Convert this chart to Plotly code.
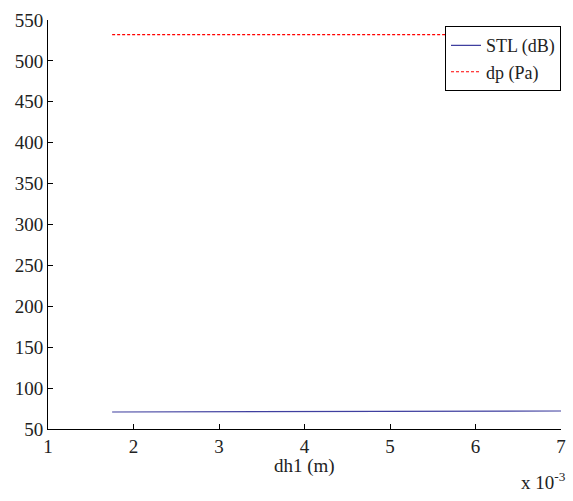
import plotly.graph_objects as go

# Hydraulic diameter sweep (m)
dh1 = [0.00175, 0.0025, 0.00325, 0.004, 0.00475, 0.0055, 0.00625, 0.007]
# Sound transmission loss (dB)
stl_db = [70.8, 71.0, 71.2, 71.4, 71.6, 71.7, 71.9, 72.0]
# Pressure drop (Pa)
dp_pa = [532, 532, 532, 532, 532, 532, 532, 532]

x_tick_vals = [1, 2, 3, 4, 5, 6, 7]
y_tick_vals = [50, 100, 150, 200, 250, 300, 350, 400, 450, 500, 550]

scale = 1e3
x_scaled = [v * scale for v in dh1]

font_family = "'Times New Roman', 'Liberation Serif', 'DejaVu Serif', serif"
fsize = 19

fig = go.Figure()
fig.add_trace(go.Scatter(
    x=x_scaled, y=stl_db, mode="lines", name="STL (dB)",
    line=dict(color="#3f3f9f", width=1.2),
))
fig.add_trace(go.Scatter(
    x=x_scaled, y=dp_pa, mode="lines", name="dp (Pa)",
    line=dict(color="#ff0000", width=1.2, dash="3px,2px"),
))

axis_common = dict(
    showgrid=False, zeroline=False, showline=True, linecolor="black",
    linewidth=1, ticks="inside", ticklen=5, tickcolor="black",
    tickfont=dict(family=font_family, size=fsize, color="#222222"),
)

fig.update_layout(
    width=573, height=501,
    margin=dict(l=48, r=7, t=20, b=72),
    paper_bgcolor="white", plot_bgcolor="white",
    font=dict(family=font_family, size=fsize, color="#222222"),
    xaxis=dict(range=[1, 7], tickvals=x_tick_vals, **axis_common),
    yaxis=dict(range=[50, 550], tickvals=y_tick_vals, **axis_common),
    legend=dict(
        x=1.0, y=0.985, xanchor="right", yanchor="top",
        bgcolor="white", bordercolor="black", borderwidth=1,
        font=dict(family=font_family, size=18),
        itemwidth=30, tracegroupgap=0,
    ),
    showlegend=True,
)

# Axis label and exponent note below the x axis
fig.add_annotation(
    xref="paper", yref="paper", x=0.5, y=-0.09,
    xanchor="center", yanchor="middle",
    text="dh1 (m)", showarrow=False,
    font=dict(family=font_family, size=fsize, color="#222222"),
)
fig.add_annotation(
    xref="paper", yref="paper", x=1, y=-0.128,
    xanchor="right", yanchor="middle", xshift=7,
    text="x 10<sup>-3</sup>", showarrow=False,
    font=dict(family=font_family, size=fsize, color="#222222"),
)

fig.write_html("out.html")
